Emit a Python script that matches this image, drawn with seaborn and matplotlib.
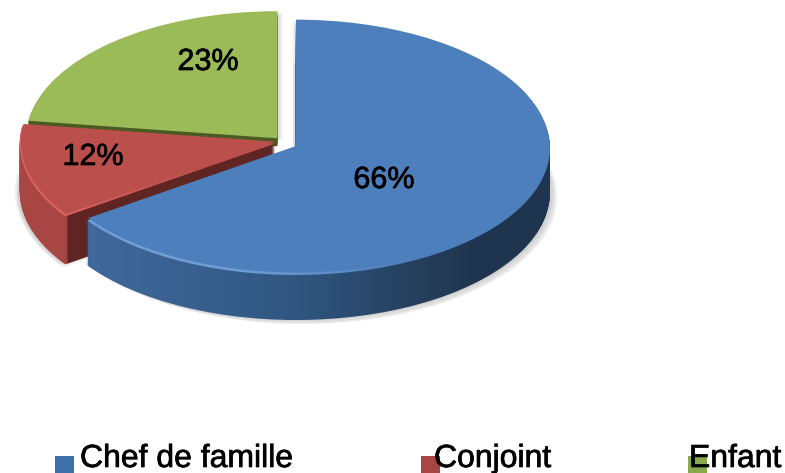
import numpy as np
import seaborn as sns
import matplotlib.pyplot as plt
import matplotlib.patheffects as pe
from matplotlib.colors import LinearSegmentedColormap
from matplotlib.patches import Rectangle

# values as printed on the chart (they add up to 101)
categories = ['Chef de famille', 'Conjoint', 'Enfant']
values = [66, 12, 23]
pct_labels = ['66%', '12%', '23%']

top_colors = ['#4c7fbb', '#bb4f4c', '#9bbb59']

# side shading from left to right of the picture
side_stops = [
    [(0.0, '#40699c'), (0.11, '#40699c'), (0.38, '#305680'), (0.52, '#26415f'), (0.60, '#20364f'), (1.0, '#1f3550')],
    [(0.0, '#a84643'), (0.082, '#a84643'), (0.086, '#5f2523'), (1.0, '#5f2523')],
    [(0.0, '#4a5a20'), (1.0, '#4a5a20')],
]
# light rim, fades out towards the right
rim_stops = [
    [(0.0, '#6f9dd6'), (0.30, '#6f9dd6'), (0.52, '#4c7fbb'), (1.0, '#4c7fbb')],
    [(0.0, '#d8605c'), (0.10, '#d8605c'), (0.25, '#bb4f4c'), (1.0, '#bb4f4c')],
    [(0.0, '#9bbb59'), (1.0, '#9bbb59')],
]

W, H = 785, 473
RX, RY = 254, 127
CX, CY = 296, 148
explode = [0.08, 0.012, 0.052]
center = (-0.071, 0.037)
radii = [1.0, 1.005, 0.99]
depths = [45, 48, 8]
shifts = [(0, 0), (0, 0), (8, 0)]
shadows = [
    [(-3, 43), (3, 46), (5, 48), (7, 49), (-3, 2)],
    [(-3, 47), (-5, 48), (-2, 51)],
    [(3, 1), (5, 1)],
]

sns.set_theme(style='white')
plt.rcParams['font.family'] = ['Liberation Sans', 'DejaVu Sans']

fig = plt.figure(figsize=(W / 100, H / 100), dpi=100)
ax = fig.add_axes([0, 0, 1, 1])
xlim = (-CX / RX, (W - CX) / RX)
ylim = ((CY - H) / RY, CY / RY)


def px(x, y):
    # picture pixels to data units
    return (x - CX) / RX, (CY - y) / RY


def one_wedge(i, dx=0.0, dy=0.0, shrink=1.0, **props):
    c = (center[0] + (shifts[i][0] + dx) / RX, center[1] - (shifts[i][1] + dy) / RY)
    wedges, _ = ax.pie(values, explode=explode, startangle=90, counterclock=False,
                       radius=radii[i] * shrink, center=c,
                       colors=top_colors, wedgeprops=props)
    for j, w in enumerate(wedges):
        if j != i:
            w.remove()
    return wedges[i]


def gradient_fill(wedge, stops, name, z):
    cmap = LinearSegmentedColormap.from_list(name, stops)
    wedge.set_zorder(z)
    im = ax.imshow(grad, extent=extent, aspect='auto', cmap=cmap, zorder=z)
    im.set_clip_path(wedge)


grad = np.linspace(0, 1, 512).reshape(1, -1)
extent = (xlim[0], xlim[1], ylim[0], ylim[1])
z = 1
# green goes at the back, blue on top
for i in [2, 1, 0]:
    # soft shadow
    for off in shadows[i]:
        w = one_wedge(i, off[0], off[1], facecolor='#808080', alpha=0.13, linewidth=0)
        w.set_zorder(z)
    z += 1
    # side, built up from layers
    for d in range(depths[i], 0, -1):
        w = one_wedge(i, 0, d, facecolor='none', linewidth=0)
        gradient_fill(w, side_stops[i], 'side%d' % i, z)
        z += 1
    # top face with a light rim
    w = one_wedge(i, facecolor='none', linewidth=0)
    gradient_fill(w, rim_stops[i], 'rim%d' % i, z)
    z += 1
    w = one_wedge(i, 0, -2, shrink=0.995, facecolor=top_colors[i], linewidth=0)
    w.set_zorder(z)
    z += 1

ax.set_xlim(xlim)
ax.set_ylim(ylim)
ax.set_aspect('auto')
ax.axis('off')

heavier = [pe.withStroke(linewidth=0.5, foreground='black')]

label_pos = [(384, 180), (93, 157), (208, 62)]
for lab, pos in zip(pct_labels, label_pos):
    ax.text(*px(*pos), lab, ha='center', va='center', fontsize=22, color='black',
            zorder=z + 2, path_effects=heavier)

# legend
marker_x = [55, 421, 688]
text_x = [80, 434, 689]
marker_colors = ['#3f6fa8', '#a84643', '#8aa84c']
for i, name in enumerate(categories):
    x0, y0 = px(marker_x[i], 473)
    x1, y1 = px(marker_x[i] + 19, 456)
    ax.add_patch(Rectangle((x0, y0), x1 - x0, y1 - y0, facecolor=marker_colors[i], linewidth=0, zorder=z))
    ax.text(*px(text_x[i], 467), name, ha='left', va='baseline', fontsize=23, color='black',
            zorder=z + 2, path_effects=heavier)

fig.savefig('out.png', dpi=100)
